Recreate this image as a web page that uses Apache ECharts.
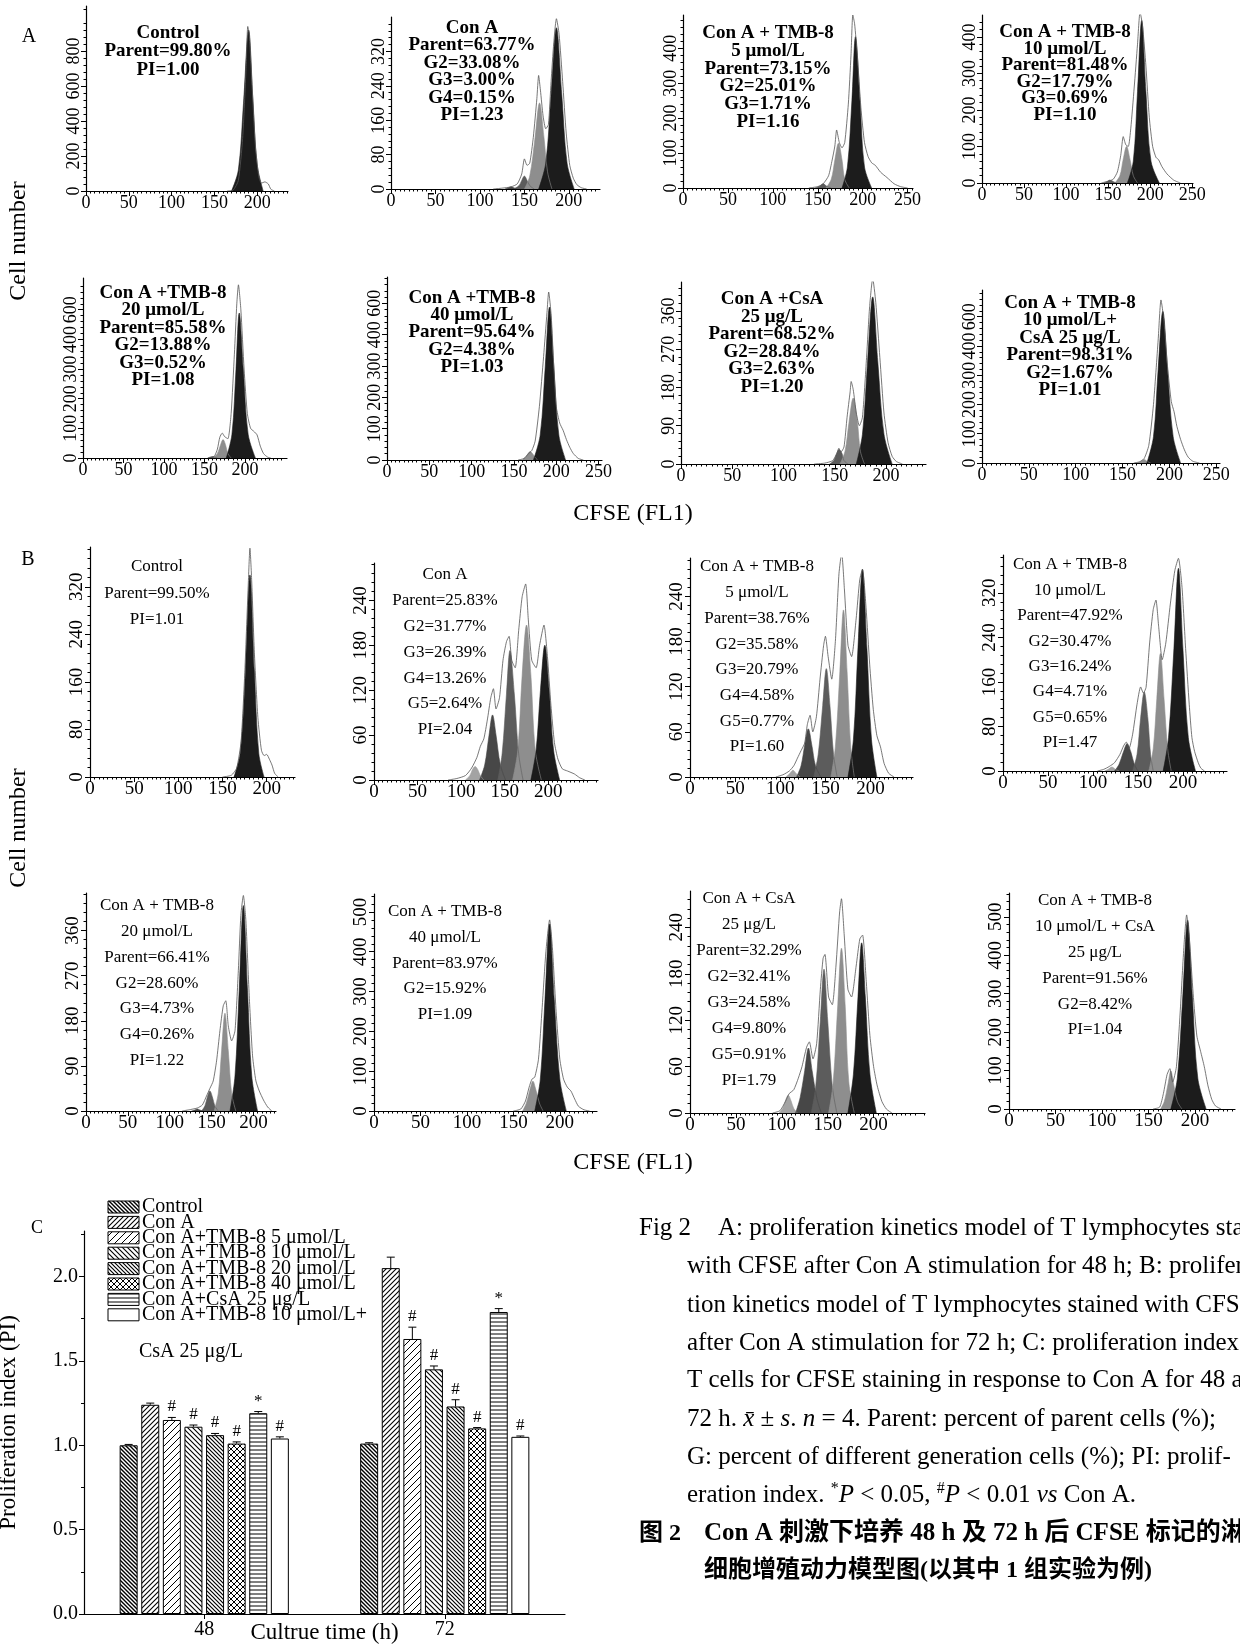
<!DOCTYPE html>
<html>
<head>
<meta charset="utf-8">
<title>CFSE proliferation</title>
<script src="https://cdn.jsdelivr.net/npm/echarts@6/dist/echarts.min.js"></script>
<style>
  html, body { margin: 0; padding: 0; background: #fff; }
  #chart { width: 1240px; height: 1644px; }
</style>
</head>
<body>
<div id="chart"></div>
<script>
// ---------- histogram data (x = CFSE FL1, y = cell number) ----------
// raw acquisition outline and fitted generation peaks [Parent, G2, G3, G4, G5]
const A1_raw = [[165,0],[172,5],[178,60],[183,300],[187,700],[189,940],[191,880],[194,600],[198,250],[202,80],[205,45],[209,52],[213,40],[216,10],[220,0]];
const A1_peaks = [[[170,0],[178,120],[184,500],[190,920],[195,520],[200,150],[207,0]]];
const A2_raw = [[115,0],[125,2],[135,5],[142,12],[147,35],[150,70],[153,55],[156,60],[160,120],[164,210],[166,264],[168,230],[171,170],[174,140],[177,150],[180,250],[183,340],[186,396],[189,360],[193,250],[197,130],[201,55],[205,25],[209,10],[214,3],[220,0]];
const A2_peaks = [
  [[166,0],[174,60],[180,220],[186,375],[192,220],[198,60],[206,0]],
  [[150,0],[156,30],[162,120],[167,200],[172,120],[176,40],[181,0]],
  [[138,0],[144,8],[147,20],[150,30],[153,20],[156,8],[161,0]],
  [[128,0],[132,3],[135,5],[138,3],[142,0]]
];
const A3_raw = [[140,0],[150,4],[156,12],[162,35],[166,80],[169,120],[171,166],[174,130],[177,115],[180,130],[184,240],[187,380],[189,495],[191,470],[194,380],[198,230],[202,130],[206,90],[210,72],[214,65],[220,45],[227,30],[235,12],[242,4],[250,0]];
const A3_peaks = [
  [[177,0],[183,60],[188,250],[192,433],[197,250],[202,60],[210,0]],
  [[159,0],[165,25],[169,80],[173,128],[177,80],[180,25],[185,0]],
  [[147,0],[152,5],[156,12],[160,5],[165,0]]
];
const A4_raw = [[142,0],[150,5],[156,10],[161,30],[165,75],[168,127],[171,105],[174,100],[177,150],[181,260],[185,380],[188,468],[191,430],[195,320],[199,180],[203,100],[207,70],[210,64],[214,45],[220,25],[228,8],[236,0]];
const A4_peaks = [
  [[173,0],[180,60],[185,250],[190,445],[195,250],[201,60],[211,0]],
  [[158,0],[164,20],[168,65],[172,100],[176,65],[180,20],[185,0]],
  [[145,0],[149,4],[152,8],[156,4],[160,0]]
];
const A5_raw = [[155,0],[162,5],[166,30],[169,70],[172,84],[175,72],[179,65],[183,150],[187,350],[190,520],[192,584],[195,500],[199,300],[203,150],[207,100],[211,90],[215,78],[219,40],[223,15],[228,3],[232,0]];
const A5_peaks = [
  [[177,0],[184,80],[189,300],[193,489],[198,300],[204,80],[213,0]],
  [[161,0],[166,15],[170,45],[173,62],[176,45],[179,15],[183,0]],
  [[154,0],[157,3],[160,5],[163,3],[166,0]]
];
const A6_raw = [[155,0],[162,5],[167,20],[171,30],[175,60],[180,170],[185,330],[189,470],[191,536],[194,460],[197,300],[200,170],[204,118],[208,95],[212,65],[216,40],[220,21],[226,5],[232,0]];
const A6_peaks = [
  [[173,0],[181,80],[187,300],[192,488],[197,300],[203,80],[211,0]],
  [[160,0],[164,10],[167,22],[169,27],[172,20],[175,8],[178,0]]
];
const A7_raw = [[130,0],[140,2],[148,8],[152,25],[154,37],[156,28],[159,40],[162,110],[165,170],[166,194],[168,175],[171,120],[174,90],[177,110],[181,250],[184,370],[187,436],[190,380],[194,250],[198,120],[202,50],[206,18],[210,6],[216,0]];
const A7_peaks = [
  [[171,0],[177,70],[182,240],[187,393],[192,240],[198,70],[206,0]],
  [[155,0],[160,30],[164,100],[168,155],[172,100],[175,30],[179,0]],
  [[145,0],[149,8],[152,25],[154,34],[157,25],[159,8],[163,0]]
];
const A8_raw = [[162,0],[168,4],[173,15],[178,60],[183,200],[188,420],[191,557],[194,490],[198,330],[202,210],[205,175],[208,125],[212,80],[216,45],[220,20],[225,6],[232,0]];
const A8_peaks = [
  [[176,0],[183,90],[188,320],[193,518],[198,320],[204,90],[212,0]],
  [[166,0],[170,6],[173,12],[176,6],[180,0]]
];
const B1_raw = [[150,0],[160,3],[166,15],[171,60],[175,170],[179,320],[181,385],[183,330],[186,210],[190,100],[194,45],[197,36],[200,38],[203,30],[206,20],[209,6],[213,0]];
const B1_peaks = [[[163,0],[170,40],[176,180],[181,340],[186,180],[191,40],[197,0]]];
const B2_raw = [[85,0],[95,2],[105,6],[112,16],[118,30],[122,45],[126,55],[130,80],[134,110],[137,122],[140,95],[144,110],[148,160],[152,185],[155,192],[158,160],[162,150],[166,200],[170,245],[174,262],[177,215],[181,160],[186,150],[190,180],[195,207],[199,165],[203,100],[207,50],[211,28],[216,15],[222,12],[230,8],[236,3],[242,0]];
const B2_peaks = [
  [[180,0],[186,40],[191,120],[196,180],[201,120],[206,40],[213,0]],
  [[159,0],[165,40],[170,140],[175,207],[180,140],[185,40],[192,0]],
  [[142,0],[147,35],[152,115],[156,173],[161,115],[166,35],[171,0]],
  [[121,0],[127,20],[132,60],[136,87],[140,60],[145,20],[151,0]],
  [[105,0],[110,6],[113,14],[116,18],[119,14],[122,6],[126,0]]
];
const B3_raw = [[95,0],[103,3],[110,8],[115,15],[119,25],[123,35],[127,45],[130,70],[133,82],[136,60],[140,80],[144,130],[148,175],[150,187],[153,160],[157,130],[161,180],[165,270],[168,298],[171,250],[175,175],[179,160],[184,210],[188,262],[191,276],[195,225],[199,150],[203,90],[207,55],[211,40],[215,18],[220,5],[226,0]];
const B3_peaks = [
  [[175,0],[181,50],[186,170],[191,276],[196,170],[201,50],[207,0]],
  [[156,0],[161,40],[166,140],[170,222],[174,140],[178,40],[182,0]],
  [[137,0],[142,30],[147,95],[151,144],[155,95],[159,30],[163,0]],
  [[118,0],[123,15],[127,42],[131,64],[135,42],[139,15],[145,0]],
  [[106,0],[110,4],[114,9],[118,4],[122,0]]
];
const B4_raw = [[105,0],[112,3],[118,8],[124,15],[130,30],[134,45],[137,52],[140,40],[144,65],[149,120],[153,151],[156,140],[159,150],[163,230],[167,290],[170,307],[173,260],[177,200],[181,230],[186,300],[191,360],[195,382],[199,330],[203,220],[207,120],[210,60],[213,35],[217,15],[220,5],[224,0]];
const B4_peaks = [
  [[178,0],[184,60],[190,220],[195,364],[200,220],[206,60],[214,0]],
  [[162,0],[167,40],[171,130],[175,211],[179,130],[183,40],[187,0]],
  [[144,0],[149,30],[153,95],[157,142],[161,95],[164,30],[167,0]],
  [[124,0],[129,12],[134,35],[138,49],[142,35],[146,12],[150,0]],
  [[113,0],[117,3],[121,7],[125,3],[129,0]]
];
const B5_raw = [[115,0],[125,3],[133,6],[139,12],[144,30],[148,45],[152,60],[156,100],[160,160],[164,210],[167,220],[170,170],[174,140],[178,160],[182,280],[185,390],[188,430],[191,380],[195,230],[199,110],[203,60],[207,40],[212,22],[217,8],[222,0]];
const B5_peaks = [
  [[172,0],[178,70],[183,240],[188,410],[193,240],[198,70],[205,0]],
  [[153,0],[158,35],[162,120],[166,195],[170,120],[174,35],[179,0]],
  [[138,0],[142,10],[145,28],[148,40],[151,28],[154,10],[158,0]],
  [[126,0],[130,2],[133,4],[136,2],[140,0]]
];
const B6_raw = [[150,0],[158,5],[163,25],[167,60],[170,80],[173,85],[177,130],[181,260],[185,400],[189,480],[192,410],[196,250],[200,130],[204,80],[208,60],[212,50],[216,30],[220,12],[226,3],[232,0]];
const B6_peaks = [
  [[173,0],[179,80],[184,280],[189,470],[194,280],[200,80],[207,0]],
  [[160,0],[164,20],[168,55],[171,75],[174,55],[178,20],[182,0]]
];
const B7_raw = [[90,0],[98,3],[104,15],[108,25],[113,30],[118,45],[122,60],[127,85],[130,92],[134,70],[138,90],[142,160],[145,200],[147,205],[151,150],[155,140],[159,190],[163,260],[165,277],[168,230],[172,160],[176,150],[181,190],[185,225],[188,230],[192,170],[196,100],[200,60],[204,35],[209,15],[214,5],[220,0]];
const B7_peaks = [
  [[172,0],[178,50],[183,150],[187,220],[191,150],[196,50],[203,0]],
  [[151,0],[156,40],[161,140],[165,213],[169,140],[173,40],[179,0]],
  [[132,0],[137,35],[142,120],[146,186],[150,120],[155,35],[160,0]],
  [[115,0],[120,20],[125,55],[129,84],[133,55],[138,20],[143,0]],
  [[97,0],[101,6],[104,16],[107,23],[110,16],[113,6],[117,0]]
];
const B8_raw = [[155,0],[162,5],[166,40],[170,90],[173,105],[176,70],[180,110],[184,250],[188,420],[191,505],[194,440],[198,300],[202,190],[206,150],[210,110],[214,60],[218,25],[222,8],[228,0]];
const B8_peaks = [
  [[174,0],[181,80],[187,300],[192,492],[197,300],[203,80],[212,0]],
  [[163,0],[167,20],[171,65],[174,99],[177,65],[181,20],[186,0]]
];

const rawCurves = [A1_raw, A2_raw, A3_raw, A4_raw, A5_raw, A6_raw, A7_raw, A8_raw,
                   B1_raw, B2_raw, B3_raw, B4_raw, B5_raw, B6_raw, B7_raw, B8_raw];
const peakCurves = [A1_peaks, A2_peaks, A3_peaks, A4_peaks, A5_peaks, A6_peaks, A7_peaks, A8_peaks,
                    B1_peaks, B2_peaks, B3_peaks, B4_peaks, B5_peaks, B6_peaks, B7_peaks, B8_peaks];

// axis ranges and tick labels
const histXMax = [236, 235, 256, 251, 252, 254, 239, 254, 232, 257, 247, 249, 227, 240, 256, 243];
const histXTicks = [
  [0,50,100,150,200], [0,50,100,150,200], [0,50,100,150,200,250], [0,50,100,150,200,250],
  [0,50,100,150,200], [0,50,100,150,200,250], [0,50,100,150,200], [0,50,100,150,200,250],
  [0,50,100,150,200], [0,50,100,150,200], [0,50,100,150,200], [0,50,100,150,200],
  [0,50,100,150,200], [0,50,100,150,200], [0,50,100,150,200], [0,50,100,150,200]
];
const histYMax = [1057, 400, 495, 460, 607, 584, 428, 591, 387, 290, 291, 388, 435, 545, 287, 562];
const histYStep = [200, 80, 100, 100, 100, 100, 90, 100, 80, 60, 60, 80, 90, 100, 60, 100];
const histYTickText = [
  ['0','200','400','600','800'], ['0','80','160','240','320'], ['0','100','200','300','400'], ['0','100','200','300','400'],
  ['0','100','200','300','400','600'], ['0','100','200','300','400','600'], ['0','90','180','270','360'], ['0','100','200','300','400','600'],
  ['0','80','160','240','320'], ['0','60','120','180','240'], ['0','60','120','180','240'], ['0','80','160','240','320'],
  ['0','90','180','270','360'], ['0','100','200','300','400','500'], ['0','60','120','180','240'], ['0','100','200','300','400','500']
];
const histNotes = [
  ['Control', 'Parent=99.80%', 'PI=1.00'],
  ['Con A', 'Parent=63.77%', 'G2=33.08%', 'G3=3.00%', 'G4=0.15%', 'PI=1.23'],
  ['Con A + TMB-8', '5 μmol/L', 'Parent=73.15%', 'G2=25.01%', 'G3=1.71%', 'PI=1.16'],
  ['Con A + TMB-8', '10 μmol/L', 'Parent=81.48%', 'G2=17.79%', 'G3=0.69%', 'PI=1.10'],
  ['Con A +TMB-8', '20 μmol/L', 'Parent=85.58%', 'G2=13.88%', 'G3=0.52%', 'PI=1.08'],
  ['Con A +TMB-8', '40 μmol/L', 'Parent=95.64%', 'G2=4.38%', 'PI=1.03'],
  ['Con A +CsA', '25 μg/L', 'Parent=68.52%', 'G2=28.84%', 'G3=2.63%', 'PI=1.20'],
  ['Con A + TMB-8', '10 μmol/L+', 'CsA 25 μg/L', 'Parent=98.31%', 'G2=1.67%', 'PI=1.01'],
  ['Control', 'Parent=99.50%', 'PI=1.01'],
  ['Con A', 'Parent=25.83%', 'G2=31.77%', 'G3=26.39%', 'G4=13.26%', 'G5=2.64%', 'PI=2.04'],
  ['Con A + TMB-8', '5 μmol/L', 'Parent=38.76%', 'G2=35.58%', 'G3=20.79%', 'G4=4.58%', 'G5=0.77%', 'PI=1.60'],
  ['Con A + TMB-8', '10 μmol/L', 'Parent=47.92%', 'G2=30.47%', 'G3=16.24%', 'G4=4.71%', 'G5=0.65%', 'PI=1.47'],
  ['Con A + TMB-8', '20 μmol/L', 'Parent=66.41%', 'G2=28.60%', 'G3=4.73%', 'G4=0.26%', 'PI=1.22'],
  ['Con A + TMB-8', '40 μmol/L', 'Parent=83.97%', 'G2=15.92%', 'PI=1.09'],
  ['Con A + CsA', '25 μg/L', 'Parent=32.29%', 'G2=32.41%', 'G3=24.58%', 'G4=9.80%', 'G5=0.91%', 'PI=1.79'],
  ['Con A + TMB-8', '10 μmol/L + CsA', '25 μg/L', 'Parent=91.56%', 'G2=8.42%', 'PI=1.04']
];

// ---------- panel C: proliferation index ----------
const groupNames = ['Control', 'Con A', 'Con A+TMB-8 5 μmol/L', 'Con A+TMB-8 10 μmol/L',
  'Con A+TMB-8 20 μmol/L', 'Con A+TMB-8 40 μmol/L', 'Con A+CsA 25 μg/L', 'Con A+TMB-8 10 μmol/L+'];
const cultureTimes = ['48', '72'];
const piMean48 = [1.00, 1.24, 1.15, 1.11, 1.06, 1.01, 1.19, 1.04];
const piMean72 = [1.01, 2.05, 1.63, 1.45, 1.23, 1.10, 1.79, 1.05];
const piErr48 = [0.005, 0.01, 0.015, 0.01, 0.01, 0.01, 0.01, 0.01];
const piErr72 = [0.005, 0.065, 0.07, 0.02, 0.04, 0.005, 0.02, 0.005];
const piSig48 = ['', '', '#', '#', '#', '#', '*', '#'];
const piSig72 = ['', '', '#', '#', '#', '#', '*', '#'];

// ---------- layout ----------
const SERIF = '"Liberation Serif", "DejaVu Serif", serif';
const CJK = '"Liberation Serif", "Noto Sans CJK SC", sans-serif';
// [left, top, right, bottom] px
const histBoxes = [
  [86, 6, 288, 191], [391, 17, 600, 189], [683, 15, 913, 188], [982, 15, 1193, 183],
  [83, 278, 287, 458], [387, 277, 602, 460], [681, 282, 926, 464], [982, 290, 1220, 463],
  [90, 547, 295, 777], [374, 563, 598, 780], [690, 558, 913, 777], [1003, 555, 1227, 771],
  [86, 893, 276, 1111], [374, 894, 597, 1111], [690, 891, 925, 1113], [1009, 893, 1235, 1109]
];
// [centerX, first line centerY, line height]
const notePos = [
  [168, 33, 18.5], [472, 28, 17.4], [768, 33, 17.8], [1065, 32, 16.6],
  [163, 293, 17.4], [472, 298, 17.2], [772, 299, 17.6], [1070, 303, 17.4],
  [157, 567, 26.5], [445, 575, 25.8], [757, 567, 25.7], [1070, 565, 25.4],
  [157, 906, 25.7], [445, 912, 25.6], [749, 899, 25.9], [1095, 901, 25.8]
];
const genColors = ['#1c1c1c', '#8e8e8e', '#5c5c5c', '#474747', '#a3a3a3'];

function hatch(kind, size, lw) {
  const c = document.createElement('canvas');
  c.width = size; c.height = size;
  const ctx = c.getContext('2d');
  ctx.fillStyle = '#fff';
  ctx.fillRect(0, 0, size, size);
  ctx.strokeStyle = '#000';
  ctx.lineWidth = lw;
  ctx.beginPath();
  if (kind === '/' || kind === 'x') {
    ctx.moveTo(0, size); ctx.lineTo(size, 0);
    ctx.moveTo(-2, 2); ctx.lineTo(2, -2);
    ctx.moveTo(size - 2, size + 2); ctx.lineTo(size + 2, size - 2);
  }
  if (kind === '\\' || kind === 'x') {
    ctx.moveTo(0, 0); ctx.lineTo(size, size);
    ctx.moveTo(size - 2, -2); ctx.lineTo(size + 2, 2);
    ctx.moveTo(-2, size - 2); ctx.lineTo(2, size + 2);
  }
  if (kind === '-') {
    ctx.moveTo(0, size / 2); ctx.lineTo(size, size / 2);
  }
  ctx.stroke();
  return { image: c, repeat: 'repeat' };
}
const barFills = [
  hatch('\\', 4, 1.4), hatch('/', 5, 1.1), hatch('/', 7, 1.0), hatch('\\', 5, 1.1),
  hatch('\\', 4, 1.2), hatch('x', 6, 1.0), hatch('-', 4, 1.0), '#fff'
];

const grids = [], xAxes = [], yAxes = [], series = [], graphics = [];

histBoxes.forEach((b, i) => {
  const isA = i < 8;
  grids.push({ left: b[0], top: b[1], width: b[2] - b[0], height: b[3] - b[1], outerBoundsMode: 'none', containLabel: false });
  xAxes.push({
    gridIndex: i, type: 'value', min: 0, max: histXMax[i], interval: 50,
    axisLine: { show: true, onZero: false, lineStyle: { color: '#000', width: 1.2 } },
    axisTick: { show: true, length: 5, customValues: histXTicks[i], lineStyle: { color: '#000' } },
    minorTick: { show: true, splitNumber: 10, length: 2.5, lineStyle: { color: '#000' } },
    axisLabel: { customValues: histXTicks[i], color: '#000', fontFamily: SERIF, fontSize: isA ? 18 : 19, margin: 3 },
    splitLine: { show: false }
  });
  const yVals = histYTickText[i].map((t, k) => k * histYStep[i]);
  yAxes.push({
    gridIndex: i, type: 'value', min: 0, max: histYMax[i], interval: histYStep[i],
    axisLine: { show: true, lineStyle: { color: '#000', width: 1.2 } },
    axisTick: { show: true, length: 5, customValues: yVals, lineStyle: { color: '#000' } },
    minorTick: { show: true, splitNumber: 5, length: 2.5, lineStyle: { color: '#000' } },
    axisLabel: {
      customValues: yVals, rotate: 90, color: '#000', fontFamily: SERIF, fontSize: isA ? 18 : 19, margin: 3,
      formatter: v => histYTickText[i][Math.round(v / histYStep[i])]
    },
    splitLine: { show: false }
  });
  const peaks = peakCurves[i];
  for (let g = peaks.length - 1; g >= 0; g--) {
    series.push({
      type: 'line', xAxisIndex: i, yAxisIndex: i, data: peaks[g], smooth: 0.35,
      showSymbol: false, silent: true, z: 2,
      lineStyle: { width: 0.6, color: genColors[g] },
      areaStyle: { color: genColors[g], opacity: 1 }
    });
  }
  series.push({
    type: 'line', xAxisIndex: i, yAxisIndex: i, data: rawCurves[i], smooth: 0.2,
    showSymbol: false, silent: true, z: 3,
    lineStyle: { width: 0.8, color: '#555' }
  });
  const p = notePos[i];
  graphics.push({
    type: 'text', x: p[0], y: p[1] - p[2] / 2, z: 10,
    style: {
      text: histNotes[i].join('\n'), fill: '#000', align: 'center', verticalAlign: 'top',
      lineHeight: p[2], fontFamily: SERIF, fontSize: isA ? 19 : 17, fontWeight: isA ? 'bold' : 'normal'
    }
  });
});

// ---------- bar chart ----------
const BAR_W = 18;
const barGrid = histBoxes.length;
grids.push({ left: 84, top: 1231, width: 481, height: 383, outerBoundsMode: 'none', containLabel: false });
xAxes.push({
  gridIndex: barGrid, type: 'category', data: cultureTimes,
  axisLine: { lineStyle: { color: '#000', width: 1.2 } },
  axisTick: { show: true, alignWithLabel: true, length: 5, lineStyle: { color: '#000' } },
  axisLabel: { color: '#000', fontFamily: SERIF, fontSize: 20, margin: 6 },
  name: 'Cultrue time (h)', nameLocation: 'middle', nameGap: 7, nameMoveOverlap: false,
  nameTextStyle: { color: '#000', fontFamily: SERIF, fontSize: 23, verticalAlign: 'top' }
});
yAxes.push({
  gridIndex: barGrid, type: 'value', min: 0, max: 2.27, interval: 0.5,
  axisLine: { show: true, lineStyle: { color: '#000', width: 1.2 } },
  axisTick: { show: true, length: 5, customValues: [0, 0.5, 1, 1.5, 2], lineStyle: { color: '#000' } },
  minorTick: { show: true, splitNumber: 2, length: 3, lineStyle: { color: '#000' } },
  axisLabel: { customValues: [0, 0.5, 1, 1.5, 2], color: '#000', fontFamily: SERIF, fontSize: 20, margin: 6, formatter: v => v.toFixed(1) },
  splitLine: { show: false },
  name: 'Proliferation index (PI)', nameLocation: 'middle', nameGap: 64, nameMoveOverlap: false,
  nameTextStyle: { color: '#000', fontFamily: SERIF, fontSize: 23 }
});
groupNames.forEach((name, k) => {
  series.push({
    name: name, type: 'bar', xAxisIndex: barGrid, yAxisIndex: barGrid,
    data: [piMean48[k], piMean72[k]], barWidth: BAR_W, barGap: '20%',
    itemStyle: { color: barFills[k], borderColor: '#000', borderWidth: 1 }
  });
});
const errData = [], errSig = [];
groupNames.forEach((name, k) => {
  errData.push([0, piMean48[k], piErr48[k], k]); errSig.push(piSig48[k]);
  errData.push([1, piMean72[k], piErr72[k], k]); errSig.push(piSig72[k]);
});
series.push({
  type: 'custom', xAxisIndex: barGrid, yAxisIndex: barGrid, data: errData, z: 5, silent: true,
  renderItem: (params, api) => {
    const cat = api.value(0), mean = api.value(1), err = api.value(2), k = api.value(3);
    const base = api.coord([cat, mean]);
    const top = api.coord([cat, mean + err]);
    const x = base[0] + (k - 3.5) * BAR_W * 1.2;
    const children = [
      { type: 'line', shape: { x1: x, y1: base[1], x2: x, y2: top[1] }, style: { stroke: '#000', lineWidth: 1 } },
      { type: 'line', shape: { x1: x - 4, y1: top[1], x2: x + 4, y2: top[1] }, style: { stroke: '#000', lineWidth: 1 } }
    ];
    const s = errSig[params.dataIndex];
    if (s) {
      children.push({ type: 'text', x: x, y: top[1] - 2,
        style: { text: s, fill: '#000', align: 'center', verticalAlign: 'bottom', fontFamily: SERIF, fontSize: 17 } });
    }
    return { type: 'group', children: children };
  }
});

// legend of panel C (swatch + label rows)
groupNames.forEach((name, k) => {
  const cy = 1207 + k * 15.4;
  graphics.push({ type: 'rect', shape: { x: 108, y: cy - 6, width: 31, height: 12 },
    style: { fill: barFills[k], stroke: '#000', lineWidth: 1 } });
  graphics.push({ type: 'text', x: 142, y: cy,
    style: { text: name, fill: '#000', align: 'left', verticalAlign: 'middle', fontFamily: SERIF, fontSize: 20 } });
});

// ---------- free text ----------
const textItems = [
  { x: 29, y: 37, t: 'A', size: 20 },
  { x: 28, y: 560, t: 'B', size: 20 },
  { x: 37, y: 1228, t: 'C', size: 18 },
  { x: 633, y: 514, t: 'CFSE (FL1)', size: 24 },
  { x: 633, y: 1163, t: 'CFSE (FL1)', size: 24 },
  { x: 139, y: 1352, t: 'CsA 25 μg/L', size: 20, align: 'left' }
];
textItems.forEach(o => graphics.push({
  type: 'text', x: o.x, y: o.y,
  style: { text: o.t, fill: '#000', align: o.align || 'center', verticalAlign: 'middle', fontFamily: SERIF, fontSize: o.size }
}));
[241, 828].forEach(cy => graphics.push({
  type: 'text', x: 19, y: cy, rotation: Math.PI / 2,
  style: { text: 'Cell number', fill: '#000', align: 'center', verticalAlign: 'middle', fontFamily: SERIF, fontSize: 24 }
}));

const CAP = 25;
const capRich = {
  i: { fontFamily: SERIF, fontSize: CAP, fontStyle: 'italic' },
  s: { fontFamily: SERIF, fontSize: 16, padding: [0, 0, 12, 0] }
};
const captionLines = [
  'with CFSE after Con A stimulation for 48 h; B: prolifera-',
  'tion kinetics model of T lymphocytes stained with CFSE',
  'after Con A stimulation for 72 h; C: proliferation index of',
  'T cells for CFSE staining in response to Con A for 48 and',
  '72 h. {i|x̄} ± {i|s}. {i|n} = 4. Parent: percent of parent cells (%);',
  'G: percent of different generation cells (%); PI: prolif-',
  'eration index. {s|*}{i|P} < 0.05, {s|#}{i|P} < 0.01 {i|vs} Con A.'
];
const captionY = [1266, 1305, 1343, 1380, 1419, 1457, 1495];
graphics.push({ type: 'text', x: 639, y: 1228,
  style: { text: 'Fig 2', fill: '#000', align: 'left', verticalAlign: 'middle', fontFamily: SERIF, fontSize: CAP } });
graphics.push({ type: 'text', x: 718, y: 1228,
  style: { text: 'A: proliferation kinetics model of T lymphocytes stained', fill: '#000', align: 'left', verticalAlign: 'middle', fontFamily: SERIF, fontSize: CAP } });
captionLines.forEach((line, k) => graphics.push({
  type: 'text', x: 687, y: captionY[k],
  style: { text: line, rich: capRich, fill: '#000', align: 'left', verticalAlign: 'middle', fontFamily: SERIF, fontSize: CAP }
}));
graphics.push({ type: 'text', x: 639, y: 1534,
  style: { text: '图 2', fill: '#000', align: 'left', verticalAlign: 'middle', fontFamily: CJK, fontWeight: 'bold', fontSize: 24 } });
graphics.push({ type: 'text', x: 704, y: 1534,
  style: { text: 'Con A 刺激下培养 48 h 及 72 h 后 CFSE 标记的淋巴', fill: '#000', align: 'left', verticalAlign: 'middle', fontFamily: CJK, fontWeight: 'bold', fontSize: 25 } });
graphics.push({ type: 'text', x: 704, y: 1571,
  style: { text: '细胞增殖动力模型图(以其中 1 组实验为例)', fill: '#000', align: 'left', verticalAlign: 'middle', fontFamily: CJK, fontWeight: 'bold', fontSize: 24 } });

const chart = echarts.init(document.getElementById('chart'), null, { renderer: 'canvas' });
chart.setOption({
  animation: false,
  backgroundColor: '#fff',
  grid: grids,
  xAxis: xAxes,
  yAxis: yAxes,
  series: series,
  graphic: graphics
});
</script>
</body>
</html>
